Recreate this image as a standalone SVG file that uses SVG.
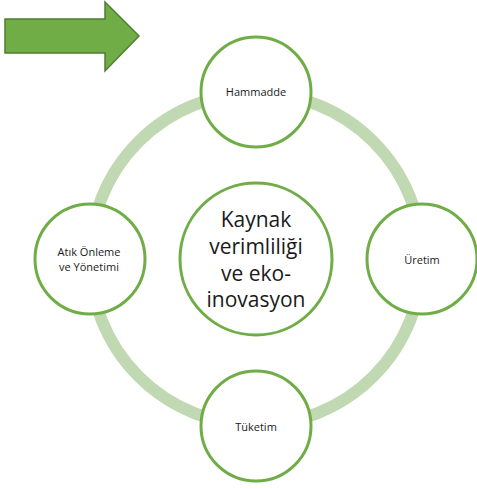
<svg xmlns="http://www.w3.org/2000/svg" width="477" height="489" viewBox="0 0 477 489">
<style>
.node{fill:#ffffff;stroke:#70AD47;stroke-width:3}
.ring{fill:none;stroke:#C0D9B2;stroke-width:12}
.sm{font-family:"Open Sans","Liberation Sans",sans-serif;font-size:11px;fill:#1a1a1a;text-anchor:middle}
.lg{font-family:"Open Sans","Liberation Sans",sans-serif;font-size:21px;fill:#1a1a1a;text-anchor:middle}
</style>
<rect width="477" height="489" fill="#ffffff"/>
<g id="arrow">
<polygon points="5,19 105,19 105,2 139,36 105,71 105,53 5,53" fill="#70AD47" stroke="#507E32" stroke-width="1.5"/>
</g>
<g id="connectors">
<circle class="ring" cx="256" cy="259" r="166"/>
</g>
<g id="center">
<circle class="node" cx="256" cy="259" r="76"/>
<text class="lg" x="256" y="227">Kaynak</text>
<text class="lg" x="256" y="254">verimliliği</text>
<text class="lg" x="256" y="281">ve eko-</text>
<text class="lg" x="256" y="307">inovasyon</text>
</g>
<g id="hammadde">
<circle class="node" cx="256" cy="92" r="55"/>
<text class="sm" x="256" y="96">Hammadde</text>
</g>
<g id="uretim">
<circle class="node" cx="422" cy="259" r="55"/>
<text class="sm" x="422" y="264">Üretim</text>
</g>
<g id="tuketim">
<circle class="node" cx="256" cy="426" r="55"/>
<text class="sm" x="256" y="431">Tüketim</text>
</g>
<g id="atik">
<circle class="node" cx="90" cy="259" r="55"/>
<text class="sm" x="89" y="256">Atık Önleme</text>
<text class="sm" x="89" y="271">ve Yönetimi</text>
</g>
</svg>
